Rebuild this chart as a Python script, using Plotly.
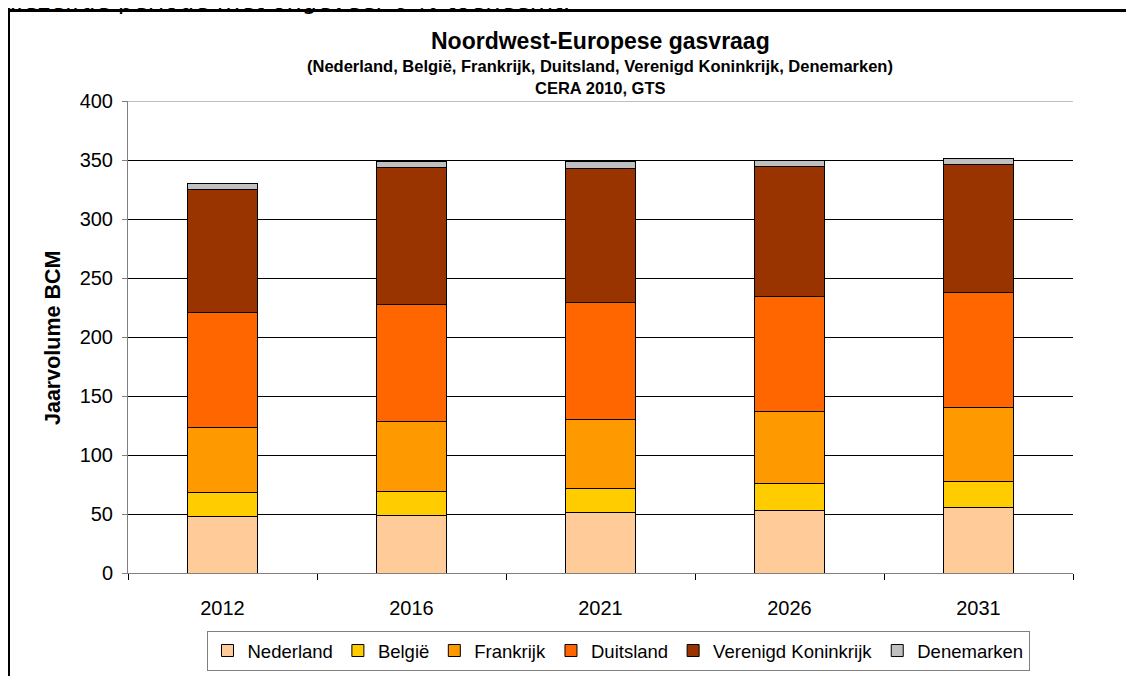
import plotly.graph_objects as go

years = ["2012", "2016", "2021", "2026", "2031"]
nederland = [48.0, 49.1, 51.4, 52.8, 55.3]
belgie = [20.1, 19.8, 19.8, 22.7, 22.1]
frankrijk = [55.3, 59.3, 59.3, 61.0, 63.0]
duitsland = [97.0, 99.0, 98.7, 97.8, 97.3]
verenigd_koninkrijk = [105.0, 116.6, 113.5, 110.6, 108.6]
denemarken = [5.1, 5.1, 6.2, 5.1, 5.1]

series = [
    ("Nederland", nederland, "#FFCC99"),
    ("België", belgie, "#FFCC00"),
    ("Frankrijk", frankrijk, "#FF9900"),
    ("Duitsland", duitsland, "#FF6600"),
    ("Verenigd Koninkrijk", verenigd_koninkrijk, "#993300"),
    ("Denemarken", denemarken, "#C0C0C0"),
]

FONT = "Liberation Sans, Arial, sans-serif"
OFF = 8  # page body margin
W, H = 1134 - OFF, 690
L, R, T = 120, 61, 93
B = H - (573 - OFF)
PW, PH = W - L - R, H - T - B


def px(xp):
    """page x pixel -> paper coordinate"""
    return (xp - OFF - L) / PW


def py(yp):
    """page y pixel -> paper coordinate"""
    return (H - B - (yp - OFF)) / PH


fig = go.Figure()
for name, vals, col in series:
    fig.add_trace(go.Bar(
        x=years, y=vals, name=name,
        marker=dict(color=col, line=dict(color="#000000", width=1)),
    ))

fig.update_layout(
    width=W, height=H,
    margin=dict(l=L, r=R, t=T, b=B, pad=0),
    barmode="stack", bargap=0.63,
    paper_bgcolor="white", plot_bgcolor="white",
    font=dict(family=FONT, size=20, color="black"),
    showlegend=True,
    legend=dict(
        orientation="h", x=px(618), y=py(651), xanchor="center", yanchor="middle",
        bordercolor="#808080", borderwidth=1, bgcolor="white",
        font=dict(family=FONT, size=18.5, color="black"),
        traceorder="normal", itemwidth=30,
    ),
    xaxis=dict(
        showline=True, linecolor="#808080", linewidth=1,
        ticks="outside", ticklen=6, tickcolor="#000000", tickson="boundaries",
        showgrid=False, ticklabelstandoff=17,
        tickfont=dict(family=FONT, size=20, color="black"),
    ),
    yaxis=dict(
        range=[0, 400], tickvals=[0, 50, 100, 150, 200, 250, 300, 350, 400],
        showline=True, linecolor="#808080", linewidth=1,
        ticks="outside", ticklen=5, tickcolor="#808080",
        showgrid=True, gridcolor="#000000", gridwidth=1,
        zeroline=False, ticklabelstandoff=5,
        tickfont=dict(family=FONT, size=20, color="black"),
    ),
)

annotations = [
    dict(text="<b>Noordwest-Europese gasvraag</b>", x=px(600), y=py(41),
         font=dict(family=FONT, size=23)),
    dict(text="<b>(Nederland, België, Frankrijk, Duitsland, Verenigd Koninkrijk, Denemarken)</b>",
         x=px(600), y=py(66), font=dict(family=FONT, size=16.5)),
    dict(text="<b>CERA 2010, GTS</b>", x=px(600), y=py(88),
         font=dict(family=FONT, size=16.5)),
    dict(text="<b>Jaarvolume BCM</b>", x=px(53), y=py(338), textangle=-90,
         font=dict(family=FONT, size=21.5)),
]
for a in annotations:
    a.update(xref="paper", yref="paper", showarrow=False, xanchor="center", yanchor="middle")
    fig.add_annotation(**a)

fig.add_annotation(
    text="diezelfde periode met ongeveer 6 % toeneemt.", xref="paper", yref="paper",
    x=px(-1), y=py(1.5), xanchor="left", yanchor="middle", showarrow=False,
    font=dict(family="DejaVu Sans, Verdana, sans-serif", size=24, color="black"),
)

# outer chart frame (extends past right and bottom edges)
fig.add_shape(type="rect", xref="paper", yref="paper",
              x0=px(8.5), x1=px(1160), y0=py(720), y1=py(10.5),
              line=dict(color="#000000", width=3), fillcolor="rgba(0,0,0,0)", layer="above")
# plot area top border
fig.add_shape(type="line", xref="paper", yref="y", x0=0, x1=1, y0=400, y1=400,
              line=dict(color="#808080", width=1), layer="above")

fig.write_html("out.html")
